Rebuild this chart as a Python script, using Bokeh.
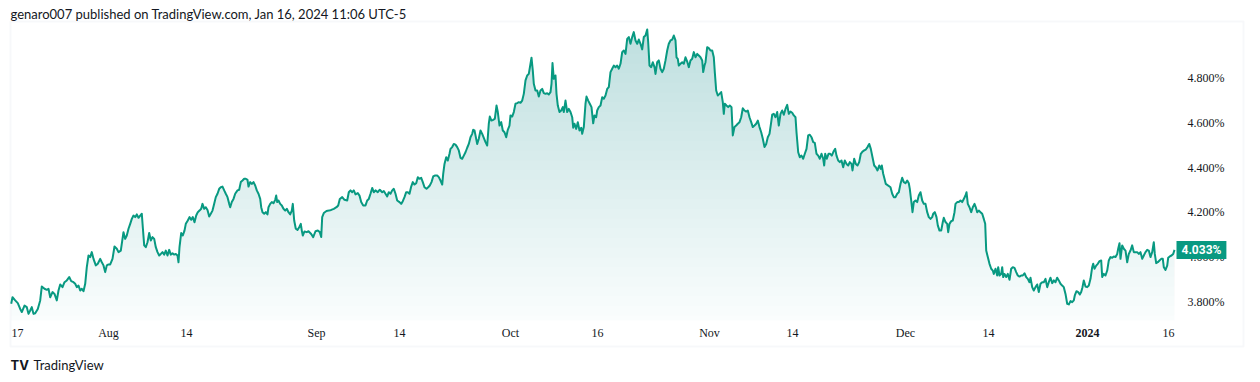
import numpy as np
from bokeh.plotting import figure
from bokeh.models import Range1d, Label, LabelSet, BoxAnnotation, ColumnDataSource
from bokeh.embed import file_html
from bokeh.resources import INLINE

# ---------------- data ----------------
bar_index = [
    0.7, 2.0, 4.7, 7.3, 9.7, 11.3, 14.0, 16.3, 18.0, 19.7, 21.3, 23.0, 24.7, 27.3, 29.7, 31.3, 34.0, 36.3, 38.0, 39.7,
    42.0, 44.0, 46.3, 48.0, 49.7, 52.0, 54.0, 56.3, 58.7, 60.7, 63.0, 64.7, 66.3, 68.0, 69.7, 71.3, 73.0, 74.7, 76.3, 78.0,
    79.7, 81.3, 83.0, 85.3, 87.3, 89.7, 91.3, 93.0, 94.7, 96.3, 98.0, 99.7, 102.0, 104.0, 106.3, 108.0, 110.3, 112.0, 113.0, 114.7,
    116.3, 118.0, 119.7, 121.3, 123.0, 124.7, 126.3, 128.0, 129.7, 131.3, 132.3, 133.7, 135.3, 137.0, 138.7, 140.3, 142.0, 143.7, 145.3, 147.0,
    148.7, 150.3, 152.0, 153.7, 155.3, 157.0, 158.7, 160.3, 162.0, 163.7, 165.3, 167.0, 168.0, 169.0, 170.7, 172.3, 174.0, 175.3, 177.3, 179.0,
    180.7, 182.3, 184.0, 185.7, 187.3, 189.0, 190.7, 192.0, 193.7, 195.3, 197.0, 198.7, 200.3, 202.0, 203.7, 205.3, 207.0, 208.7, 210.3, 212.0,
    213.7, 215.3, 217.0, 218.7, 219.7, 221.3, 223.0, 224.7, 227.0, 228.7, 230.3, 232.0, 233.7, 235.3, 237.0, 238.0, 239.7, 241.3, 243.0, 244.7,
    246.3, 248.0, 249.7, 250.7, 252.0, 253.7, 255.3, 257.0, 258.0, 259.7, 261.3, 263.0, 264.7, 265.7, 266.7, 268.0, 269.7, 271.3, 273.0, 274.7,
    276.3, 278.0, 279.7, 281.3, 282.3, 283.7, 285.3, 287.0, 288.7, 290.3, 291.3, 292.3, 294.0, 296.3, 298.0,
    300.7, 302.7, 305.0, 307.3, 309.3, 310.7, 311.7, 313.3, 316.0, 318.3, 320.7, 323.3, 326.0, 327.7, 329.3, 331.7, 334.0, 336.7, 338.3, 340.0,
    341.7, 343.3, 345.0, 347.3, 349.0, 350.7, 352.7, 355.0, 356.7, 358.3, 360.0, 361.7, 363.3, 365.0, 367.3, 369.3, 371.7, 373.3, 375.0, 376.7,
    378.3, 380.0, 381.7, 383.3, 385.0, 386.7, 389.0, 390.7, 392.3, 394.0, 395.7, 397.3, 399.0, 400.7, 402.3, 404.0, 405.7, 407.3, 409.0, 410.7,
    412.3, 414.0, 416.0, 417.7, 419.3, 421.0, 422.7, 424.3, 426.7, 428.3, 430.0, 431.7, 432.7, 434.0, 435.7, 437.3, 439.0, 440.0, 441.7, 443.3,
    445.0, 446.7, 448.3, 450.0, 451.7, 453.3, 455.0, 456.7, 458.3, 460.0, 461.7, 462.7, 464.0, 465.0, 466.7, 468.3, 470.0, 471.7, 473.3, 475.0,
    476.7, 478.3, 479.3, 481.0, 482.7, 484.3, 486.0, 487.3, 489.0, 490.7, 492.3, 494.0, 495.7, 497.3, 499.0, 500.0, 501.7, 503.3, 505.0, 506.7,
    508.3, 510.0, 511.7, 513.3, 515.0, 516.7, 518.3, 520.0, 521.0, 522.3, 523.3, 525.0, 526.7, 528.3, 530.0, 531.7, 533.3, 535.0, 536.7, 538.3,
    540.0, 541.0, 542.0, 543.3, 545.0, 546.0, 547.3, 549.0, 550.7, 552.3, 553.3, 555.0, 556.7, 558.3, 560.0, 561.7, 562.7, 564.0, 565.7, 567.3,
    569.0, 570.7, 571.7, 573.3, 575.0, 576.0, 577.7, 579.3, 581.0, 582.7, 584.0, 585.7, 586.7, 588.3,
    590.0, 591.7, 593.3, 595.0, 596.7, 598.3, 600.0, 601.7, 603.3, 605.0, 606.7, 608.3, 610.0, 611.7, 613.3, 615.0, 616.7, 618.3, 620.0, 621.7,
    623.3, 625.0, 626.7, 628.3, 630.0, 631.7, 633.3, 635.0, 636.7, 637.7, 639.0, 640.7, 642.3, 644.0, 645.0, 646.7, 648.3, 650.0, 651.7, 653.3,
    655.0, 656.7, 658.3, 660.0, 661.7, 663.3, 665.0, 666.0, 667.3, 668.3, 670.0, 671.7, 673.3, 675.0, 676.7, 678.3, 680.0, 681.7, 683.3, 685.0,
    686.7, 688.3, 690.0, 691.7, 692.7, 694.0, 695.0, 696.7, 698.3, 700.0, 701.7, 703.3, 704.3, 705.7, 707.3, 709.0, 710.7, 712.3, 713.3, 714.3,
    716.0, 717.7, 719.3, 721.0, 722.3, 724.0, 725.7, 727.3, 729.0, 730.7, 732.3, 734.0, 735.7, 737.3, 739.0, 740.7, 742.3, 744.0, 745.7, 747.3,
    749.0, 750.7, 752.3, 754.0, 755.7, 757.3, 759.0, 760.7, 761.7, 763.3, 765.0, 766.7, 768.3, 770.0, 771.7, 773.3, 775.0, 776.7, 778.3, 780.0,
    781.7, 783.3, 785.0, 786.0, 787.7, 789.3, 791.0, 792.7, 794.3, 796.0, 797.7, 799.3, 801.0, 802.7, 804.3, 806.0, 807.7, 809.3, 811.0, 812.7,
    813.7, 814.7, 816.3, 818.0, 819.7, 821.3, 823.0, 824.7, 826.0, 827.7, 829.3, 831.0, 832.7, 834.3, 836.0, 837.7, 839.3, 841.0, 842.0, 843.7,
    845.3, 847.0, 848.7, 850.3, 852.0, 853.7, 855.3, 857.0, 858.7, 860.3, 862.0, 863.7, 865.3, 867.0, 868.7, 870.3, 871.3, 872.7, 874.0, 875.3,
    880.0, 881.7, 883.3, 885.0, 886.7, 888.3, 890.0, 891.7, 893.3, 895.0, 896.7, 898.3, 899.3, 900.7, 902.0, 903.3, 905.0, 906.7, 908.3, 910.0,
    911.7, 913.3, 915.0, 916.7, 918.3, 920.0, 921.7, 922.7, 924.3, 926.0, 927.3, 929.0, 930.7, 932.3, 933.3, 935.0, 936.7, 937.7, 939.0, 940.7,
    942.3, 944.0, 945.0, 946.7, 948.3, 950.0, 951.7, 953.3, 955.0, 956.0, 957.3, 959.0, 960.7, 962.3, 964.0, 965.3, 966.7, 968.3, 970.0, 971.7,
    973.3, 974.7, 975.7, 977.3, 979.0, 980.7, 982.3, 983.3, 985.0, 986.7, 987.7, 989.0, 990.7, 991.7, 992.7, 994.0, 995.7, 997.3, 999.0, 1000.7,
    1002.3, 1004.0, 1005.7, 1007.3, 1009.0, 1010.7, 1012.3, 1014.0, 1015.7, 1017.3, 1019.0, 1020.0, 1021.7, 1023.3, 1025.0, 1026.7, 1028.3, 1030.0, 1031.7, 1033.3,
    1035.0, 1036.7, 1038.3, 1040.0, 1041.7, 1043.3, 1045.0, 1046.7, 1048.3, 1050.0, 1051.7, 1053.3, 1055.0, 1056.7, 1058.3, 1060.0, 1061.7, 1063.3, 1064.3, 1066.0,
    1067.7, 1069.3, 1070.7, 1072.0, 1073.3, 1075.0, 1076.7, 1078.3, 1080.0, 1081.7, 1082.7, 1084.0, 1085.7, 1087.3, 1089.0, 1090.7, 1091.7, 1093.3, 1095.0, 1096.7,
    1098.3, 1100.0, 1101.7, 1103.3, 1105.0, 1106.7, 1107.7, 1109.0, 1110.0, 1111.7, 1113.3, 1115.0, 1116.7, 1118.3, 1120.0, 1121.7, 1123.3, 1125.0, 1126.7, 1128.3,
    1130.0, 1131.7, 1133.3, 1135.0, 1136.7, 1138.3, 1140.0, 1141.7, 1143.3, 1144.3, 1145.7, 1147.3, 1149.0, 1150.7, 1152.3, 1153.3, 1155.0, 1156.7, 1157.7, 1159.3,
    1161.0, 1162.7, 1164.0,
]

yield_pct = [
    3.793, 3.822, 3.808, 3.796, 3.770, 3.756, 3.785, 3.778, 3.748, 3.763, 3.778, 3.748, 3.751, 3.770, 3.808, 3.870, 3.860, 3.855, 3.860, 3.822,
    3.845, 3.837, 3.808, 3.852, 3.879, 3.867, 3.889, 3.897, 3.912, 3.894, 3.889, 3.882, 3.867, 3.874, 3.852, 3.860, 3.849, 3.882, 3.956, 4.008,
    4.001, 4.023, 3.993, 3.964, 3.971, 3.993, 3.978, 3.964, 3.934, 3.964, 3.968, 3.968, 3.993, 4.048, 4.038, 4.023, 4.030, 4.082, 4.112, 4.082,
    4.097, 4.127, 4.149, 4.171, 4.186, 4.179, 4.191, 4.176, 4.186, 4.194, 4.134, 4.053, 4.045, 4.067, 4.108, 4.075, 4.090, 4.082, 4.045, 4.023,
    4.008, 4.015, 4.023, 4.012, 4.030, 4.008, 4.033, 4.012, 4.018, 4.012, 4.015, 4.008, 3.978, 4.045, 4.108, 4.097, 4.119, 4.149, 4.164, 4.179,
    4.167, 4.179, 4.156, 4.186, 4.201, 4.208, 4.216, 4.238, 4.216, 4.223, 4.211, 4.182, 4.194, 4.208, 4.238, 4.268, 4.283, 4.305, 4.312, 4.315,
    4.298, 4.283, 4.268, 4.238, 4.223, 4.246, 4.260, 4.283, 4.298, 4.301, 4.335, 4.342, 4.350, 4.350, 4.345, 4.315, 4.335, 4.327, 4.335, 4.320,
    4.298, 4.283, 4.260, 4.223, 4.201, 4.194, 4.201, 4.191, 4.223, 4.238, 4.246, 4.241, 4.256, 4.275, 4.246, 4.253, 4.238, 4.231, 4.216, 4.208,
    4.216, 4.201, 4.191, 4.208, 4.238, 4.164, 4.127, 4.122, 4.134, 4.149, 4.119, 4.097, 4.115, 4.112, 4.116,
    4.104, 4.090, 4.116, 4.119, 4.112, 4.090, 4.179, 4.197, 4.206, 4.208, 4.211, 4.216, 4.223, 4.231, 4.260, 4.268, 4.256, 4.253, 4.290, 4.298,
    4.290, 4.298, 4.280, 4.286, 4.275, 4.246, 4.231, 4.231, 4.253, 4.260, 4.283, 4.309, 4.290, 4.298, 4.290, 4.301, 4.290, 4.295, 4.283, 4.271,
    4.290, 4.283, 4.298, 4.305, 4.283, 4.253, 4.246, 4.238, 4.250, 4.268, 4.290, 4.290, 4.283, 4.315, 4.335, 4.324, 4.330, 4.357, 4.350, 4.354,
    4.335, 4.312, 4.305, 4.312, 4.320, 4.335, 4.360, 4.364, 4.364, 4.357, 4.342, 4.324, 4.372, 4.416, 4.446, 4.431, 4.461, 4.483, 4.491, 4.505,
    4.502, 4.491, 4.476, 4.443, 4.439, 4.453, 4.468, 4.488, 4.505, 4.535, 4.550, 4.568, 4.565, 4.543, 4.505, 4.528, 4.565, 4.550, 4.532, 4.513,
    4.498, 4.595, 4.627, 4.609, 4.612, 4.617, 4.676, 4.647, 4.587, 4.602, 4.565, 4.557, 4.535, 4.568, 4.587, 4.632, 4.627, 4.647, 4.684, 4.687,
    4.691, 4.688, 4.698, 4.728, 4.788, 4.810, 4.817, 4.862, 4.889, 4.832, 4.773, 4.743, 4.743, 4.716, 4.743, 4.750, 4.731, 4.728, 4.731, 4.725,
    4.736, 4.773, 4.865, 4.795, 4.810, 4.728, 4.676, 4.647, 4.654, 4.669, 4.647, 4.698, 4.647, 4.661, 4.647, 4.624, 4.577, 4.595, 4.572, 4.602,
    4.565, 4.577, 4.550, 4.580, 4.684, 4.716, 4.698, 4.684, 4.669, 4.597, 4.632, 4.624, 4.654, 4.669,
    4.676, 4.713, 4.706, 4.721, 4.750, 4.758, 4.825, 4.840, 4.854, 4.847, 4.854, 4.840, 4.862, 4.914, 4.921, 4.906, 4.973, 4.981, 4.951, 4.981,
    5.003, 4.966, 4.951, 4.970, 4.951, 4.926, 4.981, 4.988, 5.015, 4.958, 4.854, 4.847, 4.869, 4.847, 4.817, 4.869, 4.877, 4.840, 4.825, 4.840,
    4.877, 4.921, 4.951, 4.966, 4.970, 4.988, 4.966, 4.891, 4.884, 4.854, 4.862, 4.869, 4.862, 4.891, 4.872, 4.847, 4.877, 4.884, 4.914, 4.891,
    4.906, 4.899, 4.891, 4.877, 4.825, 4.854, 4.869, 4.936, 4.932, 4.921, 4.921, 4.891, 4.825, 4.743, 4.721, 4.728, 4.736, 4.691, 4.639, 4.684,
    4.676, 4.669, 4.676, 4.669, 4.543, 4.580, 4.587, 4.595, 4.602, 4.624, 4.664, 4.654, 4.649, 4.654, 4.624, 4.602, 4.580, 4.587, 4.595, 4.609,
    4.580, 4.557, 4.528, 4.491, 4.505, 4.535, 4.550, 4.602, 4.635, 4.639, 4.624, 4.647, 4.587, 4.639, 4.654, 4.635, 4.661, 4.679, 4.639, 4.649,
    4.644, 4.632, 4.624, 4.557, 4.468, 4.446, 4.453, 4.439, 4.461, 4.483, 4.543, 4.546, 4.535, 4.513, 4.510, 4.461, 4.453, 4.439, 4.461, 4.439,
    4.409, 4.461, 4.439, 4.461, 4.461, 4.453, 4.471, 4.483, 4.453, 4.431, 4.424, 4.431, 4.401, 4.431, 4.416, 4.409, 4.424, 4.416, 4.387, 4.439,
    4.416, 4.409, 4.424, 4.461, 4.471, 4.476, 4.480, 4.491, 4.505, 4.483, 4.446, 4.409, 4.401, 4.387, 4.409, 4.394, 4.409, 4.372, 4.350, 4.327,
    4.312, 4.283, 4.268, 4.268, 4.283, 4.290, 4.327, 4.354, 4.335, 4.330, 4.342, 4.330, 4.305, 4.253, 4.201, 4.246, 4.253, 4.246, 4.275, 4.290,
    4.253, 4.238, 4.238, 4.201, 4.179, 4.171, 4.179, 4.194, 4.201, 4.179, 4.142, 4.119, 4.119, 4.157, 4.176, 4.157, 4.149, 4.112, 4.149, 4.161,
    4.164, 4.201, 4.238, 4.246, 4.246, 4.253, 4.246, 4.260, 4.275, 4.290, 4.238, 4.223, 4.201, 4.223, 4.238, 4.223, 4.201, 4.208, 4.201, 4.194,
    4.171, 4.149, 4.030, 4.001, 3.971, 3.949, 3.941, 3.926, 3.949, 3.919, 3.956, 3.919, 3.926, 3.956, 3.912, 3.926, 3.912, 3.926, 3.900, 3.949,
    3.956, 3.953, 3.934, 3.919, 3.914, 3.919, 3.919, 3.929, 3.912, 3.904, 3.889, 3.909, 3.867, 3.852, 3.867, 3.879, 3.845, 3.882, 3.889, 3.889,
    3.904, 3.867, 3.889, 3.909, 3.885, 3.897, 3.889, 3.909, 3.897, 3.882, 3.874, 3.867, 3.837, 3.793, 3.790, 3.805, 3.800, 3.808, 3.830, 3.849,
    3.845, 3.834, 3.845, 3.867, 3.897, 3.870, 3.867, 3.874, 3.904, 3.956, 3.971, 3.949, 3.963, 3.971, 3.983, 3.986, 3.912, 3.926, 3.919, 3.941,
    3.986, 4.001, 3.998, 4.004, 4.001, 4.015, 4.038, 4.063, 3.993, 4.053, 4.038, 4.030, 3.978, 4.015, 4.030, 4.053, 4.023, 4.023, 4.023, 4.015,
    4.023, 3.993, 4.008, 4.023, 4.033, 4.030, 4.001, 4.023, 4.067, 4.015, 3.974, 3.978, 3.986, 3.993, 3.993, 3.956, 3.944, 3.963, 3.998, 4.004,
    4.008, 4.015, 4.033,
]

tick_bars = [7, 98, 176, 306, 389, 500, 587, 699, 782, 895, 978, 1077, 1158]
tick_labels = ["17", "Aug", "14", "Sep", "14", "Oct", "16", "Nov", "14", "Dec", "14", "2024", "16"]
y_ticks = [3.8, 4.0, 4.2, 4.4, 4.6, 4.8]
last_value = 4.033
header_text = "genaro007 published on TradingView.com, Jan 16, 2024 11:06 UTC-5"
brand_text = "TradingView"

# ---------------- styling ----------------
GREEN = "#089981"
TEXT = "#131722"
FONT = "Roboto"
W, H = 1260, 382
PANE_BOTTOM = 3.7185          # value at the bottom edge of the price pane

x = np.array(bar_index)
y = np.array(yield_pct)

p = figure(width=W, height=H, output_backend="svg", toolbar_location=None, tools="",
           x_range=Range1d(-10, 1250), y_range=Range1d(3.4423, 5.1439),
           x_axis_location=None, y_axis_location=None,
           min_border=0, min_border_left=0, min_border_right=0,
           min_border_top=0, min_border_bottom=0)
p.outline_line_color = None
p.grid.visible = False
p.background_fill_color = "white"
p.border_fill_color = "white"

# frame border around pane + scales
p.add_layout(BoxAnnotation(left=10, right=1243, bottom=36, top=361,
                           left_units="screen", right_units="screen",
                           bottom_units="screen", top_units="screen",
                           fill_color=None, line_color="#e6e8ee", line_width=2,
                           level="underlay"))

# gradient area fill (stacked translucent layers)
p.varea(x=x, y1=PANE_BOTTOM, y2=y, fill_color=GREEN, fill_alpha=0.02)
n_layers = 30
a = 1 - (0.74 / 0.98) ** (1.0 / n_layers)
ytop = y.max()
for k in range(n_layers):
    yk = PANE_BOTTOM + (ytop - PANE_BOTTOM) * (k + 0.5) / n_layers
    p.varea(x=x, y1=yk, y2=np.maximum(y, yk), fill_color=GREEN, fill_alpha=a)

p.line(x, y, line_color=GREEN, line_width=2, line_join="round")

# time scale labels
xsrc = ColumnDataSource(dict(
    x=tick_bars, text=tick_labels,
    style=["bold" if t.isdigit() and len(t) == 4 else "normal" for t in tick_labels]))
p.add_layout(LabelSet(x="x", y=50, y_units="screen", text="text", source=xsrc,
                      text_font=FONT, text_font_size="12px", text_color=TEXT,
                      text_font_style="style", text_align="center", text_baseline="middle"))

# price scale labels
ysrc = ColumnDataSource(dict(y=y_ticks, text=[f"{v:.3f}%" for v in y_ticks]))
p.add_layout(LabelSet(x=1187, x_units="screen", y="y", text="text", source=ysrc,
                      text_font=FONT, text_font_size="12px", text_color=TEXT,
                      text_align="left", text_baseline="middle"))

# last value tag
p.add_layout(Label(x=bar_index[-1], y=last_value, x_offset=2, text=f"{last_value:.3f}%",
                   text_color="white", text_font=FONT, text_font_size="12px",
                   text_font_style="bold", text_baseline="middle", text_align="left",
                   background_fill_color=GREEN, padding=dict(left=5, right=5, top=2, bottom=2)))

# header
p.add_layout(Label(x=10, y=369, x_units="screen", y_units="screen", text=header_text,
                   text_font="Lato", text_font_size="13px", text_color=TEXT,
                   text_baseline="middle", text_align="left"))

# footer brand
p.add_layout(Label(x=10, y=18, x_units="screen", y_units="screen", text="TV",
                   text_font="Inter", text_font_size="13px", text_font_style="bold",
                   text_color=TEXT, text_baseline="middle", text_align="left"))
p.add_layout(Label(x=33, y=18, x_units="screen", y_units="screen", text=brand_text,
                   text_font="Lato", text_font_size="13px", text_color=TEXT,
                   text_baseline="middle", text_align="left"))

open("out.html", "w").write(file_html(p, INLINE))
